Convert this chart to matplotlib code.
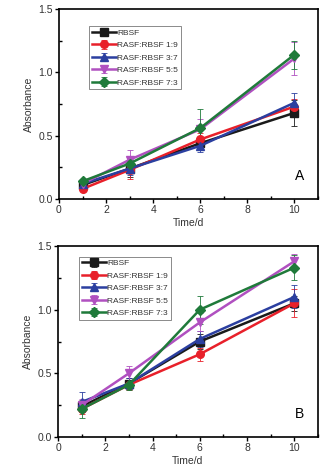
import matplotlib
matplotlib.use("Agg")
import matplotlib.pyplot as plt
from matplotlib.ticker import MultipleLocator

days = [1, 3, 6, 10]
labels = ["RBSF", "RASF:RBSF 1:9", "RASF:RBSF 3:7", "RASF:RBSF 5:5", "RASF:RBSF 7:3"]
colors = ["#1a1a1a", "#e8202a", "#2b3fa0", "#b050c0", "#1f7a3a"]
markers = ["s", "o", "^", "v", "D"]

# Panel A
a_rbsf = [0.11, 0.24, 0.44, 0.68]
a_19 = [0.08, 0.23, 0.47, 0.73]
a_37 = [0.12, 0.24, 0.42, 0.76]
a_55 = [0.12, 0.31, 0.55, 1.11]
a_73 = [0.14, 0.28, 0.56, 1.14]
a_err_rbsf = [0.02, 0.07, 0.05, 0.10]
a_err_19 = [0.02, 0.07, 0.05, 0.06]
a_err_37 = [0.02, 0.05, 0.05, 0.08]
a_err_55 = [0.02, 0.08, 0.08, 0.13]
a_err_73 = [0.02, 0.06, 0.15, 0.11]

# Panel B
b_rbsf = [0.24, 0.42, 0.75, 1.05]
b_19 = [0.22, 0.41, 0.65, 1.05]
b_37 = [0.275, 0.42, 0.77, 1.10]
b_55 = [0.25, 0.50, 0.90, 1.38]
b_73 = [0.22, 0.41, 1.00, 1.33]
b_err_rbsf = [0.04, 0.04, 0.06, 0.06]
b_err_19 = [0.04, 0.04, 0.05, 0.11]
b_err_37 = [0.08, 0.04, 0.06, 0.09]
b_err_55 = [0.05, 0.06, 0.07, 0.06]
b_err_73 = [0.07, 0.04, 0.11, 0.10]

panels = [
    ("A", [a_rbsf, a_19, a_37, a_55, a_73], [a_err_rbsf, a_err_19, a_err_37, a_err_55, a_err_73], (0.116, 0.91)),
    ("B", [b_rbsf, b_19, b_37, b_55, b_73], [b_err_rbsf, b_err_19, b_err_37, b_err_55, b_err_73], (0.08, 0.945)),
]

plt.rcParams['font.family'] = ['Liberation Sans', 'DejaVu Sans']

fig = plt.figure(figsize=(3.36, 4.76), dpi=100)
rects = [[59/336, 1-199/476, 259/336, 190/476],
         [58/336, 1-437/476, 260/336, 191/476]]

for rect, (tag, series, errs, legpos) in zip(rects, panels):
    ax = fig.add_axes(rect)
    for y, e, c, m, lab in zip(series, errs, colors, markers, labels):
        ax.errorbar(days, y, yerr=e, color=c, marker=m, markersize=5.5 if m != "D" else 5,
                    linewidth=1.8, elinewidth=0.6, capsize=2, capthick=0.6,
                    ecolor=c, label=lab)
    ax.set_xlim(0, 11)
    ax.set_ylim(0, 1.5)
    ax.xaxis.set_major_locator(MultipleLocator(2))
    ax.xaxis.set_minor_locator(MultipleLocator(1))
    ax.yaxis.set_major_locator(MultipleLocator(0.5))
    ax.yaxis.set_minor_locator(MultipleLocator(0.25))
    ax.yaxis.set_major_formatter(matplotlib.ticker.FormatStrFormatter('%.1f'))
    ax.tick_params(which='major', direction='out', length=3, width=1, labelsize=7.5,
                   pad=1.5, labelcolor='#333333')
    ax.tick_params(which='minor', direction='in', length=2, width=1)
    for s in ax.spines.values():
        s.set_linewidth(1.2)
    ax.set_xlabel("Time/d", fontsize=7.5, labelpad=2, color='#333333')
    ax.set_ylabel("Absorbance", fontsize=7.5, labelpad=3, color='#333333')
    ax.text(0.93, 0.12, tag, transform=ax.transAxes, fontsize=10, ha='center', va='center')
    leg = ax.legend(loc='upper left', bbox_to_anchor=legpos, fontsize=6,
                    frameon=True, fancybox=False, edgecolor='#555555', handlelength=2.9,
                    handletextpad=0.15, borderpad=0.35, labelspacing=0.55, borderaxespad=0)
    leg.get_frame().set_linewidth(0.6)
    for t in leg.get_texts():
        t.set_color('#333333')

fig.savefig("out.png", dpi=100)
